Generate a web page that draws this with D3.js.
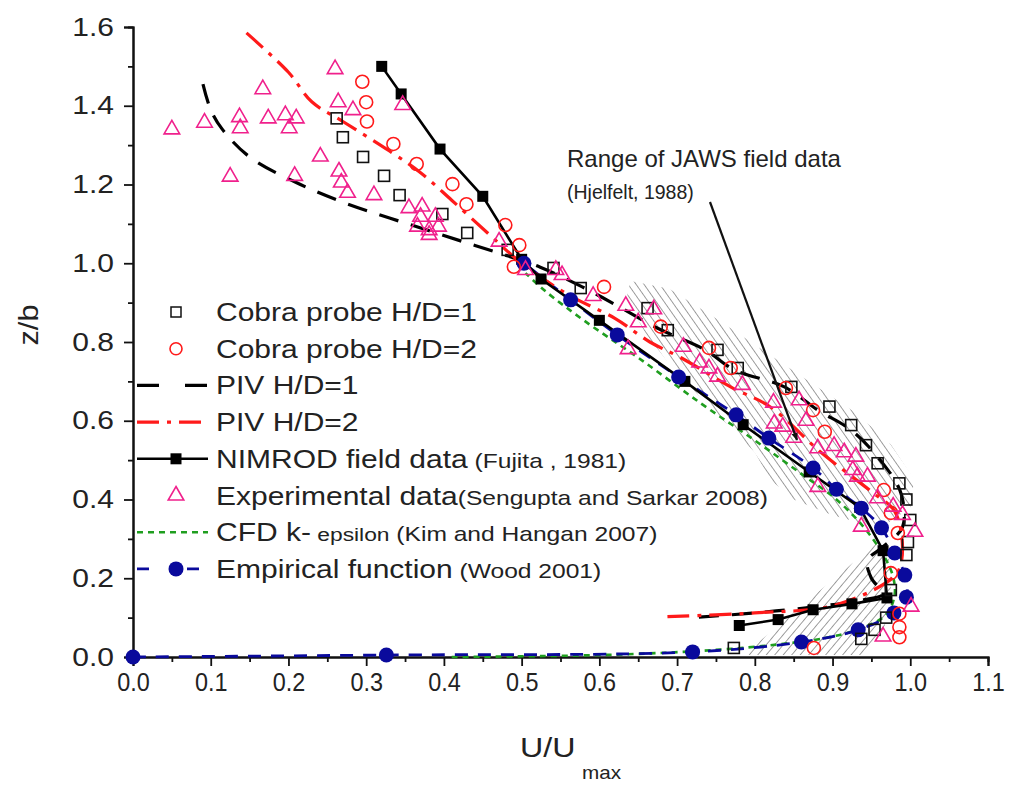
<!DOCTYPE html>
<html><head><meta charset="utf-8">
<script src="https://cdn.jsdelivr.net/npm/d3@7"></script>
<style>body{margin:0;background:#fff} svg{display:block} text{font-family:"Liberation Sans",Arial,sans-serif;fill:#222}</style>
</head><body><svg id="c" width="1011" height="788"></svg>
<script>
// ---------- data ----------
const xTicks = [0,0.1,0.2,0.3,0.4,0.5,0.6,0.7,0.8,0.9,1.0,1.1];
const yTicks = [0,0.2,0.4,0.6,0.8,1.0,1.2,1.4,1.6];
const xMinor = [0.05,0.15,0.25,0.35,0.45,0.55,0.65,0.75,0.85,0.95,1.05];
const yMinor = [0.1,0.3,0.5,0.7,0.9,1.1,1.3,1.5];

const cobra1 = [[0.262,1.368],[0.27,1.32],[0.296,1.27],[0.323,1.222],[0.343,1.173],[0.398,1.125],[0.43,1.077],[0.482,1.034],[0.541,0.988],[0.576,0.937],[0.662,0.886],[0.688,0.83],[0.752,0.78],[0.778,0.734],[0.847,0.686],[0.896,0.636],[0.924,0.589],[0.943,0.538],[0.958,0.492],[0.986,0.441],[0.995,0.4],[1.0,0.348],[0.997,0.292],[0.995,0.259],[0.975,0.17],[0.969,0.1],[0.954,0.069],[0.937,0.046],[0.773,0.023]];
const cobra2 = [[0.295,1.461],[0.30,1.409],[0.301,1.36],[0.335,1.303],[0.365,1.252],[0.411,1.201],[0.429,1.15],[0.479,1.097],[0.497,1.046],[0.49,0.991],[0.606,0.94],[0.679,0.839],[0.741,0.785],[0.769,0.734],[0.84,0.683],[0.875,0.627],[0.89,0.572],[0.966,0.424],[0.975,0.366],[0.984,0.315],[0.975,0.213],[0.986,0.11],[0.986,0.076],[0.986,0.05],[0.876,0.023]];
const piv1 = [[0.09,1.455],[0.1,1.39],[0.115,1.34],[0.15,1.27],[0.21,1.205],[0.27,1.155],[0.33,1.115],[0.39,1.077],[0.44,1.045],[0.48,1.02],[0.524,0.99],[0.578,0.94],[0.625,0.89],[0.675,0.835],[0.736,0.78],[0.773,0.73],[0.838,0.686],[0.881,0.627],[0.924,0.576],[0.963,0.496],[0.988,0.416],[0.99,0.33],[0.965,0.28],[0.945,0.245],[0.95,0.2],[0.965,0.16],[0.94,0.145],[0.88,0.128],[0.80,0.112],[0.72,0.10]];
const piv2 = [[0.146,1.585],[0.20,1.485],[0.23,1.41],[0.27,1.36],[0.33,1.285],[0.37,1.23],[0.41,1.16],[0.46,1.07],[0.50,1.0],[0.56,0.92],[0.62,0.86],[0.665,0.80],[0.705,0.76],[0.77,0.685],[0.82,0.635],[0.885,0.52],[0.95,0.42],[0.98,0.37],[0.99,0.28],[0.985,0.22],[0.97,0.19],[0.90,0.13],[0.80,0.112],[0.68,0.102]];
const nimrod = [[0.32,1.50],[0.345,1.43],[0.395,1.29],[0.45,1.17],[0.50,1.01],[0.525,0.96],[0.60,0.855],[0.71,0.70],[0.785,0.59],[0.87,0.47],[0.935,0.38],[0.965,0.27],[0.97,0.15],[0.925,0.135],[0.875,0.12],[0.83,0.095],[0.78,0.08]];
const experimental = [[0.05,1.34],[0.092,1.357],[0.137,1.371],[0.138,1.343],[0.125,1.22],[0.167,1.442],[0.174,1.368],[0.196,1.376],[0.201,1.343],[0.21,1.368],[0.208,1.222],[0.241,1.271],[0.26,1.493],[0.264,1.409],[0.283,1.389],[0.265,1.233],[0.268,1.205],[0.276,1.179],[0.31,1.173],[0.347,1.402],[0.355,1.14],[0.372,1.144],[0.37,1.118],[0.389,1.118],[0.366,1.093],[0.381,1.084],[0.393,1.093],[0.381,1.072],[0.471,1.055],[0.505,0.983],[0.544,0.983],[0.552,0.97],[0.592,0.917],[0.634,0.892],[0.65,0.85],[0.67,0.883],[0.637,0.782],[0.708,0.788],[0.729,0.748],[0.741,0.733],[0.752,0.712],[0.784,0.691],[0.824,0.646],[0.857,0.652],[0.825,0.593],[0.836,0.585],[0.85,0.557],[0.866,0.60],[0.881,0.53],[0.902,0.536],[0.915,0.52],[0.93,0.509],[0.881,0.432],[0.926,0.475],[0.932,0.458],[0.945,0.458],[0.958,0.403],[0.978,0.382],[0.99,0.361],[1.006,0.318],[0.937,0.331],[1.001,0.128],[0.965,0.052]];
const cfd = [[0.41,0.0],[0.55,0.003],[0.65,0.008],[0.75,0.018],[0.83,0.032],[0.89,0.048],[0.94,0.075],[0.97,0.11],[0.98,0.16],[0.977,0.21],[0.965,0.26],[0.94,0.33],[0.905,0.40],[0.86,0.465],[0.80,0.55],[0.73,0.645],[0.65,0.76],[0.58,0.855],[0.53,0.93],[0.505,0.975]];
const empirical = [[0,0],[0.326,0.005],[0.72,0.013],[0.86,0.038],[0.933,0.069],[0.979,0.112],[0.995,0.152],[0.993,0.208],[0.98,0.264],[0.963,0.328],[0.937,0.378],[0.905,0.426],[0.875,0.48],[0.818,0.556],[0.776,0.615],[0.702,0.711],[0.623,0.818],[0.563,0.907],[0.503,1.0]];
const jawsBand = [[0.64,0.955],[0.69,0.935],[0.75,0.86],[0.81,0.78],[0.87,0.70],[0.93,0.62],[0.975,0.54],[1.005,0.45],[1.0,0.38],[0.975,0.345],[0.955,0.33],[0.90,0.36],[0.85,0.40],[0.82,0.45],[0.80,0.52],[0.76,0.60],[0.70,0.72],[0.66,0.82],[0.635,0.91]];
const jawsWedge = [[0.785,0.005],[0.94,0.005],[0.965,0.06],[0.975,0.15],[0.975,0.24],[0.96,0.295]];

const legendMain = ["Cobra probe H/D=1","Cobra probe H/D=2","PIV H/D=1","PIV H/D=2","NIMROD field data","Experimental data","CFD k-","Empirical function"];
const legendMid = ["","","","","",""," epsilon",""];
const legendSmall = ["","","",""," (Fujita , 1981)","(Sengupta and Sarkar 2008)"," (Kim and Hangan 2007)"," (Wood 2001)"];

// ---------- setup ----------
const svg = d3.select("#c");
const x = d3.scaleLinear().domain([0,1.1]).range([133,988]);
const y = d3.scaleLinear().domain([0,1.6]).range([657,27]);

const C = {black:"#000", red:"#ff1a1a", mag:"#f0208c", green:"#1f9e1f", blue:"#0a0a9c", hatch:"#5e5e5e"};

// hatch patterns
const defs = svg.append("defs");
function hatchPattern(id, angle){
  const p = defs.append("pattern").attr("id",id).attr("patternUnits","userSpaceOnUse")
    .attr("width",6.5).attr("height",6.5).attr("patternTransform",`rotate(${angle})`);
  p.append("line").attr("x1",0).attr("y1",0).attr("x2",0).attr("y2",6.5)
    .attr("stroke",C.hatch).attr("stroke-width",1.2);
}
hatchPattern("hBand", -35);
hatchPattern("hWedge", 40);

const lineGen = d3.line().x(d=>x(d[0])).y(d=>y(d[1]));
svg.append("path").attr("d", lineGen(jawsBand)+"Z").attr("fill","url(#hBand)");
svg.append("path").attr("d", lineGen(jawsWedge)+"Z").attr("fill","url(#hWedge)");

// ---------- axes ----------
const gy = svg.append("g").attr("transform",`translate(${x(0)},0)`)
  .call(d3.axisLeft(y).tickValues(yTicks).tickSize(9).tickPadding(10).tickFormat(d3.format(".1f")));
gy.append("g").call(d3.axisLeft(y).tickValues(yMinor).tickSize(5).tickFormat(""));
const gx = svg.append("g").attr("transform",`translate(0,${y(0)})`)
  .call(d3.axisBottom(x).tickValues(xTicks).tickSize(9).tickPadding(7).tickFormat(d3.format(".1f")));
gx.append("g").call(d3.axisBottom(x).tickValues(xMinor).tickSize(5).tickFormat(""));
svg.selectAll(".domain").attr("stroke","#111").attr("stroke-width",2);
svg.selectAll(".tick line").attr("stroke","#111").attr("stroke-width",1.8);
gy.selectAll(".tick text").attr("font-size",25).attr("fill","#222")
  .attr("font-family","Liberation Sans, Arial, sans-serif")
  .attr("x",-19/1.2).attr("transform","scale(1.2,1)");
gx.selectAll(".tick text").attr("font-size",26).attr("fill","#222")
  .attr("font-family","Liberation Sans, Arial, sans-serif")
  .attr("transform","scale(0.9,1)");

// axis titles
svg.append("text").attr("transform","translate(38,325) rotate(-90) scale(1.1,1)")
  .attr("text-anchor","middle").attr("font-size",28).text("z/b");
const xt = svg.append("g").attr("transform","translate(520,757) scale(1.15,1)");
xt.append("text").attr("font-size",28).text("U/U");
xt.append("text").attr("x",54).attr("y",22).attr("font-size",18).text("max");

// ---------- lines ----------
const smooth = d3.line().x(d=>x(d[0])).y(d=>y(d[1])).curve(d3.curveCatmullRom.alpha(0.5));
svg.append("path").attr("d",smooth(cfd)).attr("fill","none").attr("stroke",C.green).attr("stroke-width",2.6).attr("stroke-dasharray","6,5");
svg.append("path").attr("d",smooth(empirical)).attr("fill","none").attr("stroke",C.blue).attr("stroke-width",2.8).attr("stroke-dasharray","13,10");
svg.append("path").attr("d",smooth(piv1)).attr("fill","none").attr("stroke",C.black).attr("stroke-width",3.2).attr("stroke-dasharray","20,13");
svg.append("path").attr("d",smooth(piv2)).attr("fill","none").attr("stroke",C.red).attr("stroke-width",3.2).attr("stroke-dasharray","22,8,4,8");
svg.append("path").attr("d",lineGen(nimrod)).attr("fill","none").attr("stroke",C.black).attr("stroke-width",2.6);
svg.append("g").selectAll("rect").data(nimrod).join("rect")
  .attr("x",d=>x(d[0])-5.5).attr("y",d=>y(d[1])-5.5).attr("width",11).attr("height",11).attr("fill",C.black);

// ---------- markers ----------
svg.append("g").selectAll("circle").data(empirical).join("circle")
  .attr("cx",d=>x(d[0])).attr("cy",d=>y(d[1])).attr("r",7.5).attr("fill",C.blue);
svg.append("g").selectAll("rect").data(cobra1).join("rect")
  .attr("x",d=>x(d[0])-5.5).attr("y",d=>y(d[1])-5.5).attr("width",11).attr("height",11)
  .attr("fill","none").attr("stroke","#111").attr("stroke-width",1.6);
svg.append("g").selectAll("circle").data(cobra2).join("circle")
  .attr("cx",d=>x(d[0])).attr("cy",d=>y(d[1])).attr("r",6.5)
  .attr("fill","none").attr("stroke",C.red).attr("stroke-width",1.6);
const tri = d3.symbol().type(d3.symbolTriangle).size(105);
svg.append("g").selectAll("path").data(experimental).join("path")
  .attr("transform",d=>`translate(${x(d[0])},${y(d[1])})`).attr("d",tri)
  .attr("fill","none").attr("stroke",C.mag).attr("stroke-width",1.6);

// ---------- legend ----------
const rowY = i => 312 + i*36.7;
const lx0 = 137, lx1 = 208, lxm = 176;
const leg = svg.append("g");
function legLine(i, color, w, dash){
  leg.append("line").attr("x1",lx0).attr("x2",lx1).attr("y1",rowY(i)).attr("y2",rowY(i))
    .attr("stroke",color).attr("stroke-width",w).attr("stroke-dasharray",dash||null);
}
leg.append("rect").attr("x",lxm-5).attr("y",rowY(0)-5).attr("width",10).attr("height",10).attr("fill","none").attr("stroke","#111").attr("stroke-width",1.5);
leg.append("circle").attr("cx",lxm).attr("cy",rowY(1)).attr("r",6).attr("fill","none").attr("stroke",C.red).attr("stroke-width",1.6);
legLine(2,C.black,3.2,"22,26");
legLine(3,C.red,3.2,"22,8,4,8");
legLine(4,C.black,2.6);
leg.append("rect").attr("x",lxm-5.5).attr("y",rowY(4)-5.5).attr("width",11).attr("height",11).attr("fill",C.black);
leg.append("path").attr("transform",`translate(${lxm},${rowY(5)})`).attr("d",tri).attr("fill","none").attr("stroke",C.mag).attr("stroke-width",1.6);
legLine(6,C.green,2.6,"6,5");
leg.append("line").attr("x1",lx0).attr("x2",lx1).attr("y1",rowY(7)).attr("y2",rowY(7)).attr("stroke",C.blue).attr("stroke-width",2.6).attr("stroke-dasharray","12,19,0,19,12");
leg.append("circle").attr("cx",lxm).attr("cy",rowY(7)).attr("r",7.5).attr("fill",C.blue);

legendMain.forEach((t,i)=>{
  const g = leg.append("g").attr("transform",`translate(216,${rowY(i)+9}) scale(1.2,1)`);
  const tx = g.append("text").attr("font-size",25);
  tx.append("tspan").text(t);
  if(legendMid[i]) tx.append("tspan").attr("font-size",19).text(legendMid[i]);
  if(legendSmall[i]) tx.append("tspan").attr("font-size",20.5).text(legendSmall[i]);
});

// ---------- annotation ----------
svg.append("text").attr("x",567).attr("y",167).attr("font-size",24).text("Range of JAWS field data");
svg.append("text").attr("x",567).attr("y",199).attr("font-size",19.5).text("(Hjelfelt, 1988)");
defs.append("marker").attr("id","arr").attr("viewBox","0 0 10 10").attr("refX",9).attr("refY",5)
  .attr("markerWidth",8).attr("markerHeight",8).attr("markerUnits","userSpaceOnUse")
  .attr("orient","auto").append("path").attr("d","M0,1 L10,5 L0,9 Z").attr("fill","#111");
svg.append("line").attr("x1",710).attr("y1",202).attr("x2",797).attr("y2",440)
  .attr("stroke","#111").attr("stroke-width",2.2).attr("marker-end","url(#arr)");
</script></body></html>
